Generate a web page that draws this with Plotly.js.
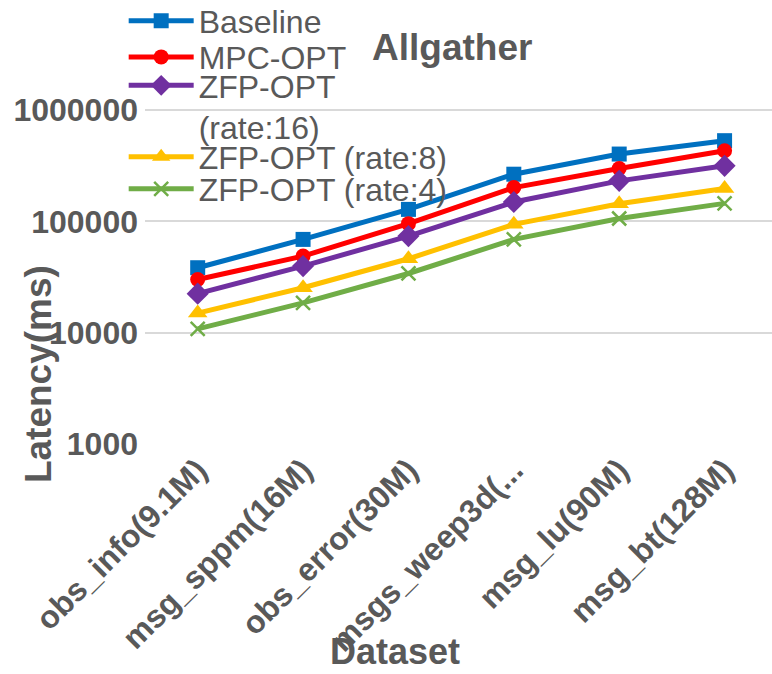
<!DOCTYPE html>
<html>
<head>
<meta charset="utf-8">
<script src="https://cdn.plot.ly/plotly-3.0.1.min.js"></script>
<style>html,body{margin:0;padding:0;background:#fff;}#chart{width:772px;height:674px;}</style>
</head>
<body>
<div id="chart"></div>
<script>
const categories = ["obs_info(9.1M)", "msg_sppm(16M)", "obs_error(30M)", "msgs_weep3d(...", "msg_lu(90M)", "msg_bt(128M)"];
const baseline = [38300, 68800, 128000, 265000, 402000, 530000];
const mpcOpt = [30000, 48700, 95300, 201000, 298000, 430000];
const zfpRate16 = [22400, 39600, 73700, 149000, 231000, 315000];
const zfpRate8 = [15000, 25300, 46100, 94000, 144000, 197000];
const zfpRate4 = [10800, 18500, 34000, 68800, 106000, 145000];
const seriesNames = ["Baseline", "MPC-OPT", "ZFP-OPT<br>(rate:16)", "ZFP-OPT (rate:8)", "ZFP-OPT (rate:4)"];
const yTickVals = [1000, 10000, 100000, 1000000];
const yTickText = ["1000", "10000", "100000", "1000000"];

const FONT = "Liberation Sans, Arial, sans-serif";
const GREY = "#595959";
const colors = ["#0070C0", "#FF0000", "#7030A0", "#FFC000", "#70AD47"];
const symbols = ["square", "circle", "diamond", "triangle-up", "x-thin"];
const sizes = [15, 15, 17, 17, 14];
const values = [baseline, mpcOpt, zfpRate16, zfpRate8, zfpRate4];
const legendIds = ["legend", "legend2", "legend3", "legend4", "legend5"];

const traces = values.map((v, i) => ({
  type: "scatter",
  mode: "lines+markers",
  x: categories,
  y: v,
  name: seriesNames[i],
  legend: legendIds[i],
  line: {color: colors[i], width: 5},
  marker: {
    symbol: symbols[i],
    size: sizes[i],
    color: colors[i],
    line: {color: colors[i], width: i === 4 ? 2.5 : 0}
  }
}));

// legend placements (paper coords)
const legendY = [0.9745, 0.8915, 0.7777, 0.6613, 0.5876];
const layout = {
  width: 772,
  height: 674,
  margin: {l: 145, r: 0, t: 10, b: 230, autoexpand: false},
  paper_bgcolor: "#ffffff",
  plot_bgcolor: "#ffffff",
  showlegend: true,
  font: {family: FONT, color: GREY},
  title: {
    text: "Allgather",
    font: {family: FONT, size: 37, weight: "bold", color: GREY},
    x: 0.49, xref: "paper", xanchor: "center",
    y: 0.93, yref: "container", yanchor: "middle"
  },
  xaxis: {
    type: "category",
    range: [-0.5, 5.45],
    showgrid: false,
    zeroline: false,
    showline: false,
    ticks: "",
    tickangle: -45,
    tickfont: {family: FONT, size: 32, weight: "bold", color: GREY},
    fixedrange: true
  },
  yaxis: {
    type: "log",
    range: [3, 6.898],
    tickvals: yTickVals,
    ticktext: yTickText,
    showgrid: true,
    gridcolor: "#D9D9D9",
    gridwidth: 2,
    zeroline: false,
    showline: false,
    ticks: "",
    ticklabelstandoff: 6,
    tickfont: {family: FONT, size: 32, weight: "bold", color: GREY},
    fixedrange: true
  },
  annotations: [
    {
      text: "Latency(ms)", xref: "paper", yref: "paper",
      x: -0.1707, y: 0.161, xanchor: "center", yanchor: "middle",
      textangle: -90, showarrow: false,
      font: {family: FONT, size: 37, weight: "bold", color: GREY}
    },
    {
      text: "Dataset", xref: "paper", yref: "paper",
      x: 0.399, y: -0.479, xanchor: "center", yanchor: "middle",
      showarrow: false,
      font: {family: FONT, size: 36, weight: "bold", color: GREY}
    }
  ]
};
legendIds.forEach((id, i) => {
  layout[id] = {
    x: -0.034, xanchor: "left",
    y: legendY[i], yanchor: "middle",
    bgcolor: "rgba(0,0,0,0)",
    borderwidth: 0,
    valign: "top",
    itemwidth: 65,
    font: {family: FONT, size: 32, color: GREY},
    tracegroupgap: 0
  };
});

Plotly.newPlot("chart", traces, layout, {displayModeBar: false, staticPlot: true});
</script>
</body>
</html>
